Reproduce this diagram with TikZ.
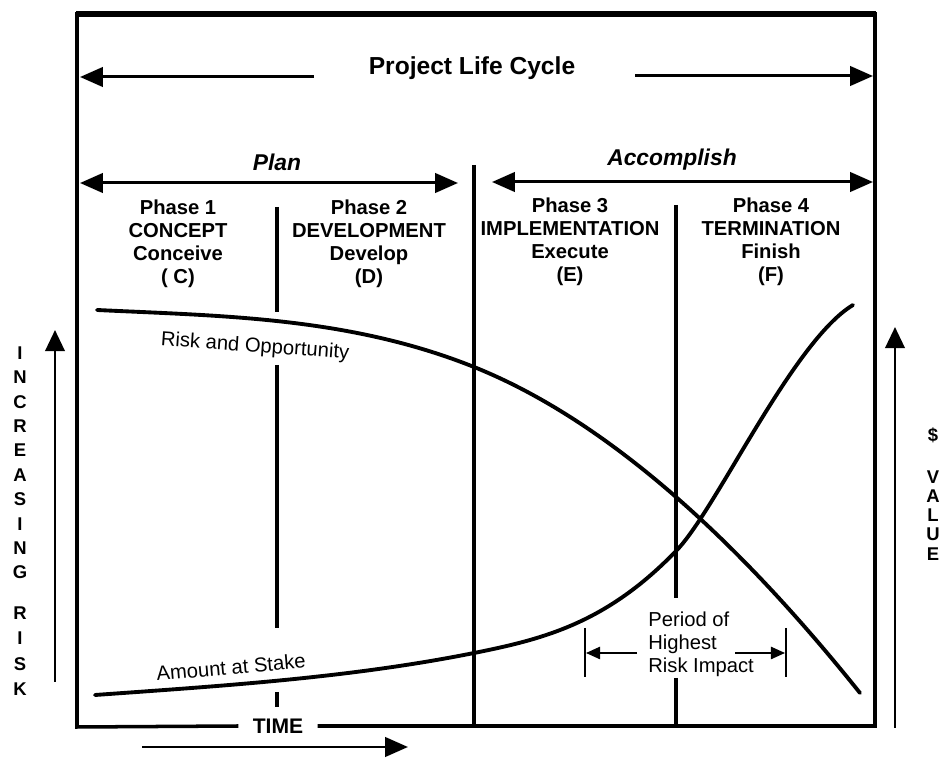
\documentclass[tikz,border=0pt]{standalone}
\usepackage{fontspec}
\setmainfont{Liberation Sans}
\usetikzlibrary{arrows.meta,positioning}

\begin{document}
\begin{tikzpicture}[x=0.02cm, y=-0.02cm,
  thickln/.style={line width=2pt},
  crv/.style={line width=2.2pt, line cap=round},
  bigarr/.style={line width=1.7pt, -{Triangle[length=13pt,width=11pt]}},
  dblarr/.style={line width=1.7pt, {Triangle[length=13pt,width=11pt]}-{Triangle[length=13pt,width=11pt]}},
  sidearr/.style={line width=1.6pt, -{Triangle[length=12pt,width=11pt]}},
  smallarr/.style={line width=0.9pt, -{Triangle[length=8pt,width=7pt]}},
  phase/.style={align=center, font=\fontsize{11.5}{13}\selectfont\bfseries},
  curvelbl/.style={font=\fontsize{11.5}{13}\selectfont},
  sidelet/.style={font=\fontsize{10.5}{12}\selectfont\bfseries, inner sep=0pt}]
  \useasboundingbox (0,0) rectangle (941,759);

  % frame with TIME on the bottom edge
  \node[font=\fontsize{12}{14}\selectfont\bfseries, inner xsep=8pt] (time) at (278,726) {TIME};
  \draw[thickln] (time.west) -- (77,727) |- (875,14) |- (time.east);
  \draw[line width=3pt] (76,14) -- (876,14);
  \coordinate (timeA) at (142,747);
  \coordinate (timeB) at (408,747);
  \draw[bigarr] (timeA) -- (timeB);

  % title row
  \node[font=\fontsize{14}{16}\selectfont\bfseries] (title) at (472,68) {Project Life Cycle};
  \coordinate (lcA) at (314,77);
  \coordinate (lcL) at (80,77);
  \coordinate (lcB) at (635,76);
  \coordinate (lcR) at (873,76);
  \draw[bigarr] (lcA) -- (lcL);
  \draw[bigarr] (lcB) -- (lcR);

  % plan / accomplish
  \node[font=\fontsize{13}{15}\selectfont\bfseries\itshape] (plan) at (277,162) {Plan};
  \node[font=\fontsize{13}{15}\selectfont\bfseries\itshape] (accomp) at (672,160) {Accomplish};
  \coordinate (planL) at (80,183);
  \coordinate (planR) at (458,183);
  \coordinate (accL) at (492,182);
  \coordinate (accR) at (873,182);
  \draw[dblarr] (planL) -- (planR);
  \draw[dblarr] (accL) -- (accR);

  % dividers
  \draw[thickln] (474,165) -- (474,727);
  \draw[thickln] (277,207) -- (277,312);
  \draw[thickln] (277,365) -- (277,628);
  \draw[thickln] (277,692) -- (277,707);
  \draw[thickln] (676,205) -- (676,598);
  \draw[thickln] (676,678) -- (676,727);

  % phases
  \node[phase] (ph1) at (178,244) {Phase 1\\CONCEPT\\Conceive\\( C)};
  \node[phase] (ph2) at (369,244) {Phase 2\\DEVELOPMENT\\Develop\\(D)};
  \node[phase] (ph3) at (570,242) {Phase 3\\IMPLEMENTATION\\Execute\\(E)};
  \node[phase] (ph4) at (771,242) {Phase 4\\TERMINATION\\Finish\\(F)};

  % curves
  \draw[crv] (97,310) .. controls (222,316) and (349,317) .. (474,367)
                      .. controls (624,427) and (760,568) .. (860,693);
  \draw[crv] (95,695) .. controls (220,686) and (349,678) .. (474,653)
                      .. controls (544,639) and (607,623) .. (677,550)
                      .. controls (717,508) and (793,341) .. (853,305);
  \node[curvelbl, rotate=-4] (riskopp) at (255,347) {Risk and Opportunity};
  \node[curvelbl, rotate=5] (stake) at (231,667) {Amount at Stake};

  % period of highest risk impact
  \node[curvelbl, align=left, anchor=west, inner sep=0pt] (period) at (648,644) {Period of\\Highest\\Risk Impact};
  \draw[line width=1pt] (585,628) -- (585,677);
  \draw[line width=1pt] (786,628) -- (786,677);
  \coordinate (perA) at (637,653);
  \coordinate (perL) at (586,653);
  \coordinate (perB) at (735,653);
  \coordinate (perR) at (785,653);
  \draw[smallarr] (perA) -- (perL);
  \draw[smallarr] (perB) -- (perR);

  % left axis
  \coordinate (riskB) at (55,682);
  \coordinate (riskT) at (55,330);
  \draw[sidearr] (riskB) -- (riskT);
  \foreach \l [count=\k from 0] in {I,N,C,R,E,A,S,I,N,G}
    \node[sidelet] (inc\k) at (20,{353+24.4*\k}) {\l};
  \foreach \l [count=\k from 0] in {R,I,S,K}
    \node[sidelet] (rsk\k) at (20,{613+25.5*\k}) {\l};

  % right axis
  \coordinate (valB) at (895,728);
  \coordinate (valT) at (895,327);
  \draw[sidearr] (valB) -- (valT);
  \node[sidelet] (dol) at (933,435) {\$};
  \foreach \l [count=\k from 0] in {V,A,L,U,E}
    \node[sidelet] (val\k) at (933,{477+19.2*\k}) {\l};
\end{tikzpicture}
\end{document}
